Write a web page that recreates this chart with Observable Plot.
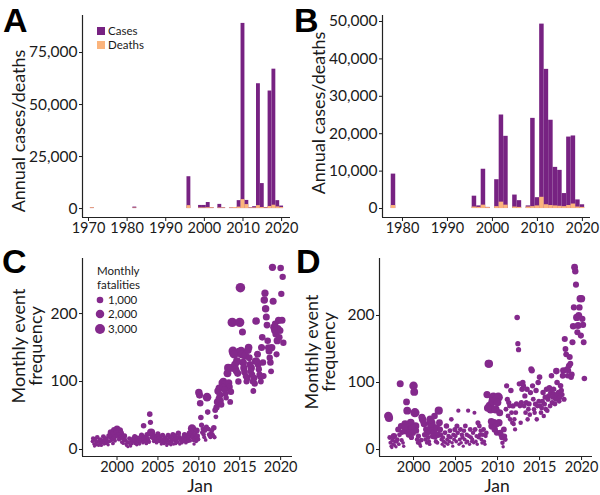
<!DOCTYPE html>
<html><head><meta charset="utf-8">
<script src="https://cdn.jsdelivr.net/npm/d3@7"></script>
<script src="https://cdn.jsdelivr.net/npm/@observablehq/plot@0.6"></script>
<style>
body{margin:0;background:#fff;}
#wrap{position:relative;width:600px;height:495px;font-family:Lato,sans-serif;color:#1a1a1a;overflow:hidden;background:#fff}
.pl{position:absolute}
.letter{position:absolute;font-family:"Liberation Sans",Arial,sans-serif;font-weight:bold;font-size:34px;line-height:1;color:#000}
.ylab{position:absolute;font-size:18px;white-space:nowrap;line-height:1;text-align:center;transform:translate(-50%,-50%) rotate(-90deg)}
.ylab2{position:absolute;font-size:18px;white-space:nowrap;line-height:17px;text-align:center;transform:translate(-50%,-50%) rotate(-90deg)}
.t{position:absolute;white-space:nowrap;line-height:1}
</style></head>
<body><div id="wrap"></div>
<script>
// ---------- Panel A: annual cases / deaths ----------
const aYears  = [1971,1982,1996,1999,2000,2001,2002,2004,2005,2007,2008,2009,2010,2011,2012,2013,2014,2015,2016,2017,2018,2019,2020];
const aCases  = [400,700,15300,1500,1500,2900,500,2000,400,300,500,3800,89000,3900,400,900,60000,12000,500,56500,67000,3800,1200];
const aDeaths = [400,250,1400,300,300,400,400,300,300,300,500,700,4300,1900,300,300,1400,500,300,1000,1600,800,500];
const aYTicks = [0,25000,50000,75000];
const aXTicks = [1970,1980,1990,2000,2010,2020];

// ---------- Panel B: annual cases / deaths ----------
const bYears  = [1978,1996,1997,1998,1999,2001,2002,2003,2005,2006,2008,2009,2010,2011,2012,2013,2014,2015,2016,2017,2018,2019,2020];
const bCases  = [9200,3300,700,10500,300,7700,25000,19300,3600,2100,700,24100,2900,49300,37200,23600,11000,10200,4000,19100,19400,2300,1000];
const bDeaths = [800,400,300,900,250,500,1700,900,400,300,400,500,700,3000,1000,800,700,600,500,800,1200,400,300];
const bYTicks = [0,10000,20000,30000,40000,50000];
const bXTicks = [1980,1990,2000,2010,2020];

// ---------- Panel C: monthly event frequency (rows = years 1997.., 12 months) ----------
const cFirstYear = 1997;
const cFreq = [
 [12,16,8,5,14,10,7,18,11,6,13,9],
 [15,6,10,13,19,8,12,16,9,14,11,7],
 [20,12,18,25,14,22,9,16,28,13,19,24],
 [30,26,21,15,28,18,24,11,17,9,13,20],
 [14,8,6,11,4,10,16,7,5,12,9,15],
 [16,12,19,9,14,7,17,11,13,8,12,18],
 [21,14,10,35,18,12,15,9,22,16,13,11],
 [52,40,25,18,22,16,12,20,17,14,10,19],
 [23,16,12,19,14,8,11,21,15,9,13,17],
 [10,6,14,21,9,12,18,7,11,15,22,8],
 [14,20,9,12,16,11,24,18,8,15,13,10],
 [16,12,19,22,14,10,20,15,12,17,24,13],
 [20,26,31,18,14,8,22,16,12,28,20,15],
 [84,80,68,47,36,25,30,22,18,28,14,33],
 [77,55,30,22,20,18,24,28,22,20,32,18],
 [58,48,62,70,86,75,90,80,72,66,98,92],
 [100,96,88,82,76,90,112,120,98,92,70,85],
 [120,187,145,142,140,125,118,115,130,112,100,143],
 [187,238,145,140,173,128,120,114,138,108,100,105],
 [146,150,135,125,115,120,110,100,86,105,97,130],
 [189,130,140,125,118,110,107,100,150,165,128,108],
 [220,230,207,195,183,160,150,145,135,128,115,150],
 [268,218,180,175,185,170,140,160,178,190,165,175],
 [267,229,190,254,157]
];
const cFat = [
 [150,300,100,80,250,120,90,350,200,60,220,100],
 [200,90,150,250,400,100,180,300,120,250,150,80],
 [500,200,350,900,250,600,150,300,1100,200,400,800],
 [1200,900,600,300,1000,400,700,150,300,100,200,500],
 [250,100,80,200,60,150,300,100,80,200,150,250],
 [400,200,500,150,300,100,450,200,250,100,200,400],
 [500,250,150,600,400,200,300,150,500,300,250,200],
 [600,500,1800,350,400,250,200,400,300,250,150,350],
 [500,300,200,400,250,100,200,450,300,150,250,350],
 [150,80,250,450,150,200,400,100,200,300,500,120],
 [250,450,150,200,300,200,550,400,100,300,250,150],
 [300,200,400,500,250,150,450,300,200,350,550,250],
 [500,800,1900,400,250,100,500,300,200,700,450,300],
 [1400,1200,1000,600,500,300,400,300,200,400,150,500],
 [2100,600,400,300,250,200,350,400,300,250,600,250],
 [700,400,900,1100,1300,800,1500,1200,900,800,1200,1000],
 [1400,1200,900,800,600,1100,1600,1800,1200,1000,700,1000],
 [1600,2600,2200,2400,2000,1500,1300,1100,1700,1200,900,2300],
 [2500,2700,2000,1800,1200,1500,1300,1100,1600,900,800,1000],
 [1400,1500,1100,1200,900,1300,1000,800,700,1000,900,1200],
 [1500,1000,1200,1100,900,900,800,700,1200,1000,1000,800],
 [1400,1300,1400,1200,1100,1000,1100,1200,900,1000,700,1300],
 [1300,1200,1300,1100,1000,1200,800,1300,1200,1300,1000,1200],
 [1000,900,1200,900,900]
];

// ---------- Panel D: monthly event frequency ----------
const dFirstYear = 1997;
const dFreq = [
 [50,47,18,10,5,3,14,8,20,6,12,4],
 [12,15,30,8,22,98,35,14,26,10,5,33],
 [38,28,71,58,35,22,25,30,40,18,32,25],
 [95,86,55,35,28,15,10,20,12,8,5,14],
 [48,45,42,38,22,15,30,10,25,18,12,8],
 [45,40,35,28,20,25,50,18,12,32,10,22],
 [58,40,30,22,15,8,18,12,5,25,10,35],
 [15,8,20,12,28,18,45,10,5,22,15,30],
 [20,12,35,25,58,8,15,30,10,22,18,5],
 [28,15,35,10,22,12,58,20,8,30,18,12],
 [15,25,10,55,30,12,20,8,40,18,35,22],
 [28,15,10,22,30,12,8,20,25,82,62,128],
 [128,65,60,42,35,72,78,40,30,60,38,25],
 [70,78,40,55,25,22,18,10,4,30,20,15],
 [60,95,75,50,70,65,45,88,55,40,65,38],
 [45,30,55,68,197,158,149,98,65,40,70,90],
 [100,95,65,80,55,70,90,45,60,68,52,85],
 [120,118,95,75,60,55,68,88,45,65,100,72],
 [108,65,55,62,72,85,50,68,78,60,90,58],
 [75,80,92,65,85,110,70,78,90,82,68,75],
 [117,100,80,85,72,78,95,88,82,110,118,75],
 [165,150,142,120,110,118,125,138,128,108,112,160],
 [184,212,272,266,246,197,175,185,200,212,225,170],
 [225,195,186,160,106]
];
const dFat = [
 [2000,1800,400,200,100,80,250,150,900,100,300,80],
 [200,300,700,150,400,1200,800,250,600,150,100,700],
 [1500,1300,1100,1600,1800,700,900,2300,1600,500,1200,900],
 [2000,1600,2400,1400,700,300,200,500,250,150,100,350],
 [1200,1400,900,1000,600,300,800,200,700,400,250,150],
 [1600,2400,2200,1500,900,1300,1000,400,300,1200,200,900],
 [1800,1100,700,400,250,100,300,200,80,400,150,600],
 [200,100,300,150,400,250,350,120,80,300,200,450],
 [250,150,450,350,250,100,200,400,120,300,250,80],
 [350,200,400,100,300,150,250,250,100,400,250,120],
 [200,300,120,200,400,150,250,100,450,250,400,300],
 [350,200,150,300,400,150,100,250,350,1300,1500,1600],
 [1600,2200,2000,1100,1300,2000,2600,1400,900,1900,1200,800],
 [1500,2500,1300,1200,700,600,500,300,100,700,500,400],
 [400,500,500,400,500,400,300,600,400,300,500,300],
 [300,250,400,500,600,500,500,500,400,300,500,600],
 [600,500,400,500,350,450,600,300,400,500,350,500],
 [700,800,500,400,350,300,450,550,300,400,600,450],
 [600,400,350,400,450,550,300,450,500,400,600,350],
 [450,500,600,400,550,600,450,500,600,550,400,450],
 [1000,600,500,550,400,450,600,550,500,700,1000,450],
 [800,700,700,700,600,700,800,800,700,600,700,800],
 [1000,800,1100,900,800,1300,800,1200,1100,900,1300,800],
 [1300,900,900,700,600]
];
const sizeLegend = [1000,2000,3000];
const scatterXTicks = [2000,2005,2010,2015,2020];
const scatterYTicks = [0,100,200];

const CASE_COL = "#772282", DEATH_COL = "#fbb47c", DOT_COL = "#84298c", AX = "#222";
const FONT = "Lato, sans-serif";
const wrap = document.getElementById("wrap");

function place(node, left, top){ node.classList.add("pl"); node.style.left = left+"px"; node.style.top = top+"px"; wrap.appendChild(node); }
function text(str, cls, css){ const d=document.createElement("div"); d.className=cls; d.innerHTML=str; Object.assign(d.style, css); wrap.appendChild(d); return d; }

function styleAxes(svg){
  svg.querySelectorAll('[aria-label="x-axis tick label"]').forEach(g=>g.setAttribute("font-size","14.5"));
  svg.querySelectorAll('[aria-label="y-axis tick label"]').forEach(g=>g.setAttribute("font-size","15.5"));
  return svg;
}

function barPanel(years, cases, deaths, xdom, ydom, yticks, xticks, ml, mr){
  const data = years.map((y,i)=>({year:y, cases:cases[i], deaths:deaths[i]}));
  return styleAxes(Plot.plot({
    width:300, height:240, marginLeft:ml, marginRight:mr, marginTop:15, marginBottom:23,
    style:{fontFamily:FONT, fontSize:"15px", color:"#1a1a1a", background:"transparent", overflow:"visible"},
    x:{domain:xdom, ticks:xticks, tickFormat:d=>String(d), label:null, tickSize:4, tickPadding:1},
    y:{domain:ydom, ticks:yticks, tickFormat:d3.format(","), label:null, tickSize:3, tickPadding:2},
    marks:[
      Plot.rect(data,{x1:d=>d.year-0.5, x2:d=>d.year+0.5, y1:0, y2:"cases", fill:CASE_COL}),
      Plot.rect(data,{x1:d=>d.year-0.5, x2:d=>d.year+0.5, y1:0, y2:"deaths", fill:DEATH_COL}),
      Plot.ruleX([xdom[0]],{stroke:AX, strokeWidth:1.2}),
      Plot.ruleY([ydom[0]],{stroke:AX, strokeWidth:1.2})
    ]
  }));
}
const R_DOMAIN=[0,4000], R_RANGE=[1,5.6];
function scatterPanel(first, freq, fat, xdom, ydom, ml, mr){
  const data=[];
  freq.forEach((row,yi)=>row.forEach((v,m)=>data.push({t:first+yi+m/12, v, f:fat[yi][m]})));
  return styleAxes(Plot.plot({
    width:300, height:240, marginLeft:ml, marginRight:mr, marginTop:18, marginBottom:24,
    style:{fontFamily:FONT, fontSize:"15px", color:"#1a1a1a", background:"transparent", overflow:"visible"},
    x:{domain:xdom, ticks:scatterXTicks, tickFormat:d=>String(d), label:null, tickSize:4, tickPadding:1},
    y:{domain:ydom, ticks:scatterYTicks, label:null, tickSize:3, tickPadding:2},
    r:{type:"sqrt", domain:R_DOMAIN, range:R_RANGE},
    marks:[
      Plot.dot(data,{x:"t", y:"v", r:"f", fill:DOT_COL, stroke:null}),
      Plot.ruleX([xdom[0]],{stroke:AX, strokeWidth:1.2}),
      Plot.ruleY([ydom[0]],{stroke:AX, strokeWidth:1.2})
    ]
  }));
}

place(barPanel(aYears,aCases,aDeaths,[1968.45,2022.3],[-4300,92800],aYTicks,aXTicks,82,10),0,0);
place(barPanel(bYears,bCases,bDeaths,[1975.56,2021.8],[-2400,51600],bYTicks,bXTicks,82,10),300,0);
place(scatterPanel(cFirstYear,cFreq,cFat,[1995.78,2021.45],[-10.3,281],82,8),0,240);
place(scatterPanel(dFirstYear,dFreq,dFat,[1995.95,2021.3],[-10.4,285],79,8),300,240);

// panel letters
text("A","letter",{left:"3px",top:"3px"});
text("B","letter",{left:"294px",top:"3px"});
text("C","letter",{left:"2px",top:"244px"});
text("D","letter",{left:"296px",top:"244px"});

// axis titles
text("Annual cases/deaths","ylab",{left:"18px",top:"131px"});
text("Annual cases/deaths","ylab",{left:"318px",top:"113px"});
text("Monthly event<br>frequency","ylab2",{left:"27px",top:"346px"});
text("Monthly event<br>frequency","ylab2",{left:"320px",top:"352px"});
text("Jan","t",{left:"200px",top:"476.5px",fontSize:"17.5px",transform:"translateX(-50%)"});
text("Jan","t",{left:"497px",top:"476.5px",fontSize:"17.5px",transform:"translateX(-50%)"});

// legend A
const legA = [["Cases",CASE_COL,31],["Deaths",DEATH_COL,45]];
legA.forEach(([lab,col,cy])=>{
  const s=document.createElement("div"); Object.assign(s.style,{position:"absolute",left:"97px",top:(cy-4)+"px",width:"8px",height:"8px",background:col}); wrap.appendChild(s);
  text(lab,"t",{left:"108px",top:cy+"px",fontSize:"11.5px",transform:"translateY(-50%)"});
});

// legend C (size)
text("Monthly","t",{left:"97px",top:"271px",fontSize:"11.5px",transform:"translateY(-50%)"});
text("fatalities","t",{left:"97px",top:"285px",fontSize:"11.5px",transform:"translateY(-50%)"});
const rs = d3.scaleSqrt().domain(R_DOMAIN).range(R_RANGE);
const svgNS="http://www.w3.org/2000/svg";
const lsvg=document.createElementNS(svgNS,"svg");
lsvg.setAttribute("width","20"); lsvg.setAttribute("height","50");
Object.assign(lsvg.style,{position:"absolute",left:"90px",top:"292px"});
const legYs=[300,314,329];
sizeLegend.forEach((v,i)=>{
  const c=document.createElementNS(svgNS,"circle");
  c.setAttribute("cx",10); c.setAttribute("cy",legYs[i]-292); c.setAttribute("r",rs(v)); c.setAttribute("fill",DOT_COL);
  lsvg.appendChild(c);
  text(d3.format(",")(v),"t",{left:"108px",top:legYs[i]+"px",fontSize:"11.5px",transform:"translateY(-50%)"});
});
wrap.appendChild(lsvg);
</script></body></html>
